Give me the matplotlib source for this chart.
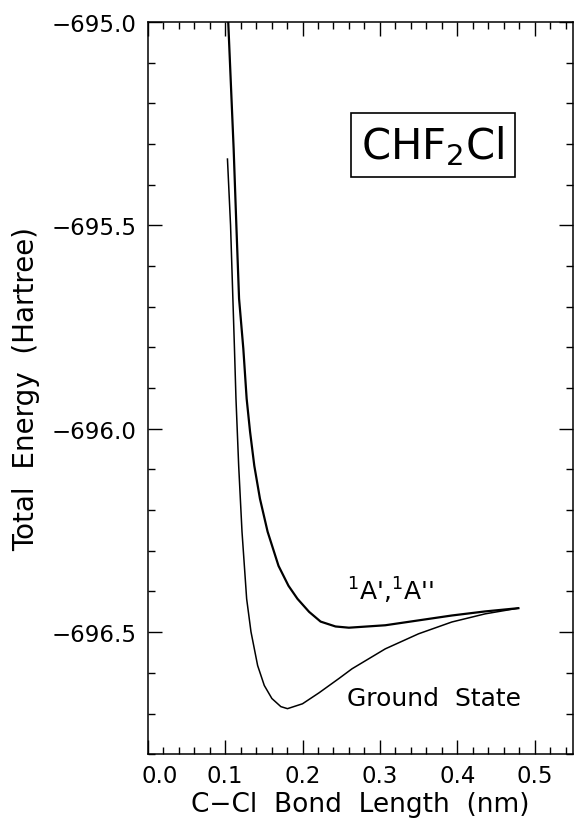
"""Potential energy curves along the C-Cl bond of CHF2Cl."""

import matplotlib
matplotlib.use("Agg")
import matplotlib.pyplot as plt
from matplotlib.ticker import MultipleLocator, FuncFormatter

matplotlib.rcParams.update({
    "font.family": "DejaVu Sans",
    "font.size": 16,
})

# excited states 1A', 1A''
excited_r = [0.104, 0.111, 0.1145, 0.118, 0.1235, 0.1278, 0.1322, 0.1377,
             0.145, 0.1549, 0.169, 0.1819, 0.1935, 0.2085, 0.2234, 0.2427,
             0.260, 0.307, 0.350, 0.393, 0.436, 0.479]
excited_e = [-695.00, -695.312, -695.50, -695.68, -695.803, -695.926, -696.007,
             -696.091, -696.172, -696.253, -696.337, -696.386, -696.418,
             -696.45, -696.474, -696.486, -696.489, -696.483, -696.471,
             -696.459, -696.449, -696.441]

# ground state
ground_r = [0.103, 0.107, 0.112, 0.114, 0.1175, 0.1218, 0.1278, 0.1334, 0.142,
            0.1506, 0.1604, 0.172, 0.1806, 0.200, 0.2214, 0.247, 0.264, 0.307,
            0.350, 0.393, 0.436, 0.479]
ground_e = [-695.337, -695.50, -695.80, -695.926, -696.091, -696.253, -696.418,
            -696.499, -696.582, -696.631, -696.663, -696.683, -696.688,
            -696.676, -696.649, -696.614, -696.590, -696.541, -696.504,
            -696.475, -696.455, -696.441]

fig = plt.figure(figsize=(5.75, 8.2), dpi=100)
ax = fig.add_axes([0.257, 0.079, 0.74, 0.893])

ax.plot(excited_r, excited_e, color="black", lw=1.6)
ax.plot(ground_r, ground_e, color="black", lw=1.1)

ax.set_xlim(0.0, 0.55)
ax.set_ylim(-696.8, -695.0)
ax.xaxis.set_major_locator(MultipleLocator(0.1))
ax.xaxis.set_minor_locator(MultipleLocator(0.02))
ax.yaxis.set_major_locator(MultipleLocator(0.5))
ax.yaxis.set_minor_locator(MultipleLocator(0.1))


def fmt(v, pos):
    if abs(v) < 1e-9:
        return ""  # drawn separately, shifted right as in the original
    return f"{v:.1f}".replace("-", "\u2212")


ax.xaxis.set_major_formatter(FuncFormatter(fmt))
ax.yaxis.set_major_formatter(FuncFormatter(fmt))

ax.tick_params(which="both", direction="in", top=True, right=True, width=1.0)
ax.tick_params(which="major", length=10)
ax.tick_params(which="minor", length=5)
ax.tick_params(axis="y", which="major", pad=8, labelsize=16.5)
ax.tick_params(axis="x", which="major", pad=7, labelsize=16.5)
for sp in ax.spines.values():
    sp.set_linewidth(1.1)

ax.annotate("0.0", xy=(0.0, 0.0), xycoords=("data", "axes fraction"),
            xytext=(8.5, -7), textcoords="offset points",
            ha="center", va="top", fontsize=16.5)

ax.set_xlabel("C\u2212Cl  Bond  Length  (nm)", fontsize=19, labelpad=3)
ax.set_ylabel("Total  Energy  (Hartree)", fontsize=20, labelpad=8)

ax.text(0.258, -696.42, "$^1$A',$^1$A''", fontsize=18, va="baseline", ha="left")
ax.text(0.257, -696.68, "Ground  State", fontsize=18, va="baseline", ha="left")

ax.text(0.67, 0.832, "CHF$_2$Cl", transform=ax.transAxes, fontsize=30,
        ha="center", va="center",
        bbox=dict(boxstyle="square,pad=0.25", facecolor="white",
                  edgecolor="black", linewidth=1.2))

fig.savefig("out.png", dpi=100, facecolor="white")
